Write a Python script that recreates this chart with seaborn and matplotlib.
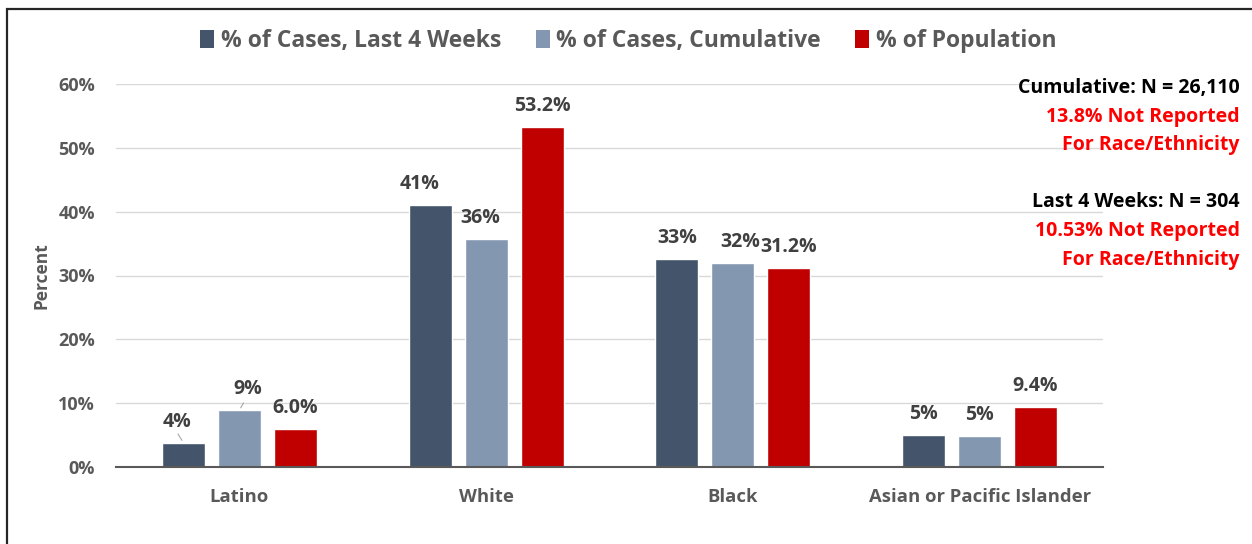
import matplotlib
matplotlib.use("Agg")
import matplotlib.pyplot as plt
from matplotlib.patches import Patch, Rectangle
import seaborn as sns
import pandas as pd

# values (percent)
groups = ["Latino", "White", "Black", "Asian or Pacific Islander"]
series = ["% of Cases, Last 4 Weeks", "% of Cases, Cumulative", "% of Population"]
last_4_weeks = [3.8, 41.0, 32.6, 5.0]
cumulative = [8.9, 35.7, 32.0, 4.9]
population = [6.0, 53.2, 31.2, 9.4]
label_formats = ["{:.0f}%", "{:.0f}%", "{:.1f}%"]
y_ticks = [0, 10, 20, 30, 40, 50, 60]

notes = [
    ("Cumulative: N = 26,110", "black"),
    ("13.8% Not Reported", "#FF0000"),
    ("For Race/Ethnicity", "#FF0000"),
    ("", "black"),
    ("Last 4 Weeks: N = 304", "black"),
    ("10.53% Not Reported", "#FF0000"),
    ("For Race/Ethnicity", "#FF0000"),
]

colors = ["#44546A", "#8497B0", "#C00000"]
text_grey = "#595959"

df = pd.DataFrame({
    "group": groups * 3,
    "series": [s for s in series for _ in groups],
    "value": last_4_weeks + cumulative + population,
})

sns.set_theme(style="white")
plt.rcParams["font.family"] = ["Open Sans", "DejaVu Sans"]
plt.rcParams["font.weight"] = "bold"

fig = plt.figure(figsize=(12.52, 5.44), dpi=100)
ax = fig.add_axes([116 / 1252, 1 - 467 / 544, (1103 - 116) / 1252, (467 - 84) / 544])

sns.barplot(data=df, x="group", y="value", hue="series", order=groups,
            hue_order=series, palette=colors, width=0.68, gap=0.23,
            saturation=1, ax=ax, legend=False)

# small horizontal nudges so labels sit like the original
dx = {(0, 0): -5, (1, 0): 6, (0, 1): -8, (1, 1): -4, (1, 2): 5}
for si, cont in enumerate(ax.containers):
    for gi, bar in enumerate(cont):
        val = bar.get_height()
        ax.annotate(label_formats[si].format(val),
                    (bar.get_x() + bar.get_width() / 2, val),
                    xytext=(dx.get((si, gi), 0), 8), textcoords="offset points",
                    ha="center", va="bottom", fontsize=14, fontweight="bold",
                    color="#404040")

# leader lines for the two small Latino labels
ax.annotate("", xy=(ax.containers[0][0].get_x() + ax.containers[0][0].get_width() / 2, last_4_weeks[0]),
            xytext=(-5, 8), textcoords="offset points",
            arrowprops=dict(arrowstyle="-", color="#A6A6A6", lw=0.8))
ax.annotate("", xy=(ax.containers[1][0].get_x() + ax.containers[1][0].get_width() / 2, cumulative[0]),
            xytext=(4, 7), textcoords="offset points",
            arrowprops=dict(arrowstyle="-", color="#A6A6A6", lw=0.8))

ax.set_xlim(-0.5, len(groups) - 0.5)
ax.set_ylim(0, 60)
ax.set_yticks(y_ticks)
ax.set_yticklabels([f"{t}%" for t in y_ticks])
ax.yaxis.grid(True, color="#D9D9D9", lw=1)
ax.set_axisbelow(True)
for side in ["top", "right", "left"]:
    ax.spines[side].set_visible(False)
ax.spines["bottom"].set_color(text_grey)
ax.spines["bottom"].set_linewidth(1.5)
ax.tick_params(axis="y", length=0, labelsize=13, labelcolor=text_grey, pad=15)
ax.tick_params(axis="x", length=0, labelsize=13.3, labelcolor=text_grey, pad=15)
for lab in ax.get_xticklabels() + ax.get_yticklabels():
    lab.set_fontweight("bold")
ax.set_xlabel("")
ax.set_ylabel("Percent", fontsize=12.5, fontweight="bold", color=text_grey, labelpad=6)

handles = [Patch(facecolor=c, edgecolor="none") for c in colors]
fig.legend(handles, series, loc="center", bbox_to_anchor=(0.502, 1 - 41 / 544),
           ncol=3, frameon=False, handlelength=0.6, handleheight=0.85,
           handletextpad=0.3, columnspacing=1.5,
           prop={"size": 16.5, "weight": "bold"}, labelcolor=text_grey)

y0 = 1 - 88 / 544
step = 28.6 / 544
for i, (txt, col) in enumerate(notes):
    if txt:
        fig.text(1240 / 1252, y0 - i * step, txt, ha="right", va="center",
                 fontsize=14, fontweight="bold", color=col)

# outer frame (only top and left edges show in the crop)
fig.patches.append(Rectangle((7 / 1252, -0.2), 1.2, 1.2 - 9 / 544,
                             transform=fig.transFigure, fill=False,
                             edgecolor="#262626", lw=1.6))

fig.savefig("out.png", dpi=100)
